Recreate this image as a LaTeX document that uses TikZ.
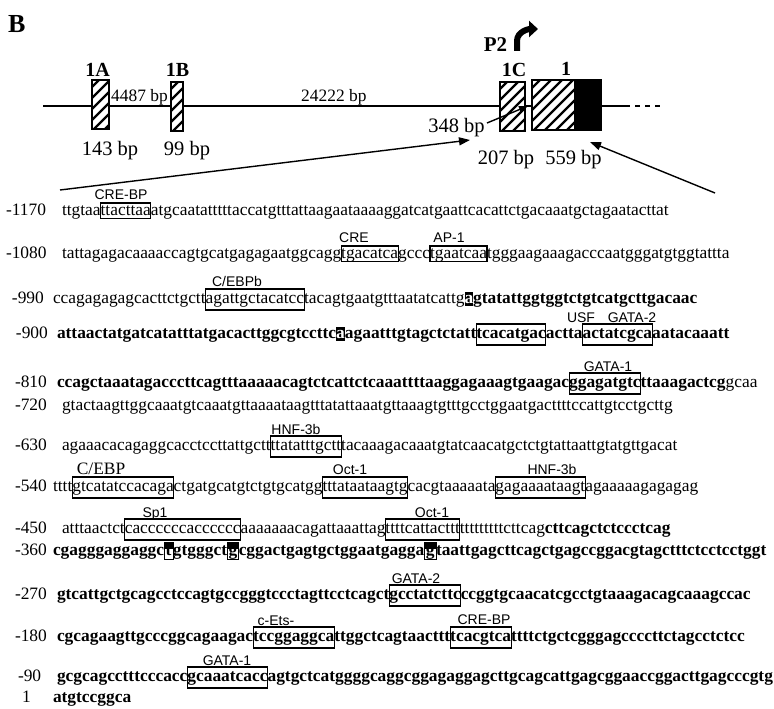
\documentclass[tikz,border=0pt]{standalone}
\usepackage{fontspec}
\setmainfont{Liberation Serif}
\newfontfamily\lsans{Liberation Sans}
\usetikzlibrary{arrows.meta}
\begin{document}
\begin{tikzpicture}[x=1pt,y=-1pt,
  seq/.style={inner sep=0pt, outer sep=0pt, anchor=base west, font=\fontsize{17.4}{20}\selectfont},
  seqb/.style={seq, font=\fontsize{17.4}{20}\selectfont\bfseries},
  rl/.style={seq},
  bx/.style={draw, line width=1.1pt, text height=14pt, text depth=7pt},
  bxs/.style={draw, line width=1.1pt, text height=12pt, text depth=3.5pt},
  hl/.style={fill=black, text=white, text height=11pt, text depth=3pt},
  mk/.style={draw, line width=0.6pt, inner xsep=1.5pt, text height=13pt, text depth=4pt,
    path picture={\fill[black] (path picture bounding box.north west) rectangle ([yshift=-7pt]path picture bounding box.north east);}},
  tf/.style={font=\lsans\fontsize{14}{16}\selectfont, anchor=base, inner sep=0pt},
  tfs/.style={font=\fontsize{17.4}{20}\selectfont, anchor=base, inner sep=0pt},
  num/.style={anchor=base west, inner sep=0pt, font=\fontsize{17.4}{20}\selectfont},
  big/.style={anchor=base, inner sep=0pt, font=\fontsize{20.5}{24}\selectfont},
  exl/.style={anchor=base, inner sep=0pt, font=\fontsize{20}{24}\selectfont\bfseries},
  hatch/.style={draw, line width=1.3pt, fill=white, inner sep=0pt, outer sep=0pt,
    path picture={\foreach \k in {-90,-79,...,70} \draw[line width=2.4pt] ([yshift=\k pt]path picture bounding box.south west) -- ++(100pt,100pt);}},
  hatchblack/.style={draw, line width=1.3pt, fill=white, inner sep=0pt, outer sep=0pt,
    path picture={\foreach \k in {-90,-79,...,70} \draw[line width=2.4pt] ([yshift=\k pt]path picture bounding box.south west) -- ++(100pt,100pt);
      \fill[black] ([xshift=42pt]path picture bounding box.south west) rectangle (path picture bounding box.north east);}},
  conn/.style={line width=1.4pt, -{Triangle[length=11pt,width=8pt]}}
]
\useasboundingbox (0,0) rectangle (774,709);

% ---------- gene map ----------
\node[anchor=base west, inner sep=0pt, font=\fontsize{26}{30}\selectfont\bfseries] (B) at (8,33) {B};

\coordinate (gL) at (43,106);
\coordinate (gS) at (625,106);
\coordinate (gE) at (663,106);
\draw[line width=1.4pt] (gL) -- (gS);
\draw[line width=1.4pt, dash pattern=on 5pt off 5pt] (gS) -- (gE);

\node[hatch, minimum width=17pt, minimum height=49pt] (e1A) at (100.5,104.5) {};
\node[hatch, minimum width=12pt, minimum height=49pt] (e1B) at (177,106.5) {};
\node[hatch, minimum width=25pt, minimum height=49pt] (e1C) at (512.5,106.5) {};
\node[hatchblack, minimum width=69pt, minimum height=50pt] (e1) at (566.5,105) {};

\node[exl] (n1A) at (97.5,77) {1A};
\node[exl] (n1B) at (177.5,77) {1B};
\node[exl] (n1C) at (514,77) {1C};
\node[exl] (n1) at (566,76) {1};
\node[exl, font=\fontsize{21}{24}\selectfont\bfseries] (nP2) at (495.5,52) {P2};

\node[num] (d1) at (111,102) {4487 bp};
\node[num] (d2) at (301,102) {24222 bp};
\node[big] (b143) at (110,155) {143 bp};
\node[big] (b99) at (187,155) {99 bp};
\node[big] (b348) at (456.5,132) {348 bp};
\node[big] (b207) at (506,164) {207 bp};
\node[big] (b559) at (573.5,164) {559 bp};

\coordinate (p2a) at (517,51);
\coordinate (p2b) at (538,29);
\draw[line width=6pt, -{Triangle[length=9pt,width=16pt]}] (p2a) -- (517,41) to[out=90,in=180] (p2b);

\coordinate (aL) at (60,190);
\coordinate (aLt) at (470,140);
\draw[conn] (aL) -- (aLt);
\coordinate (aR) at (715,193);
\coordinate (aRt) at (590,142);
\draw[conn] (aR) -- (aRt);
\coordinate (aS) at (487,123);
\coordinate (aSt) at (528,106);
\draw[line width=1.4pt, -{Triangle[length=9pt,width=7pt]}] (aS) -- (aSt);

% ---------- sequence ----------
% -1170
\node[rl] (l1) at (6,215) {-1170};
\node[seq] (s1a) at (62,215) {ttgtaa};
\node[seq,bxs] (s1b) at (s1a.base east) {ttacttaa};
\node[seq] (s1c) at (s1b.base east) {atgcaatatttttaccatgtttattaagaataaaaggatcatgaattcacattctgacaaatgctagaatacttat};
\node[tf] (t1) at (121,199) {CRE-BP};

% -1080
\node[rl] (l2) at (6,258) {-1080};
\node[seq] (s2a) at (62,258) {tattagagacaaaaccagtgcatgagagaatggcagg};
\node[seq,bxs] (s2b) at (s2a.base east) {tgacatca};
\node[seq] (s2c) at (s2b.base east) {gccc};
\node[seq,bxs] (s2d) at (s2c.base east) {tgaatcaa};
\node[seq] (s2e) at (s2d.base east) {tgggaagaaagacccaatgggatgtggtattta};
\node[tf] (t2a) at (354,242) {CRE};
\node[tf] (t2b) at (449,242) {AP-1};

% -990
\node[rl] (l3) at (12,303) {-990};
\node[seq] (s3a) at (53,303) {ccagagagagcacttctgctt};
\node[seq,bx] (s3b) at (s3a.base east) {agattgctacatcc};
\node[seq] (s3c) at (s3b.base east) {tacagtgaatgtttaatatcattg};
\node[seqb,hl] (s3d) at (s3c.base east) {a};
\node[seqb] (s3e) at (s3d.base east) {gtatattggtggtctgtcatgcttgacaac};
\node[tf] (t3) at (237,286) {C/EBPb};

% -900
\node[rl] (l4) at (16,338) {-900};
\node[seqb] (s4a) at (57,338) {attaactatgatcatatttatgacacttggcgtccttc};
\node[seqb,hl] (s4b) at (s4a.base east) {a};
\node[seqb] (s4c) at (s4b.base east) {agaatttgtagctctatt};
\node[seqb,bx] (s4d) at (s4c.base east) {tcacatgac};
\node[seqb] (s4e) at (s4d.base east) {actta};
\node[seqb,bx] (s4f) at (s4e.base east) {actatcgca};
\node[seqb] (s4g) at (s4f.base east) {aatacaaatt};
\node[tf] (t4a) at (581,322) {USF};
\node[tf] (t4b) at (632,322) {GATA-2};

% -810
\node[rl] (l5) at (15,387) {-810};
\node[seqb] (s5a) at (57,387) {ccagctaaatagacccttcagtttaaaaacagtctcattctcaaattttaaggagaaagtgaagac};
\node[seqb,bx] (s5b) at (s5a.base east) {ggagatgtc};
\node[seqb] (s5c) at (s5b.base east) {ttaaagactcg};
\node[seq] (s5d) at (s5c.base east) {gcaa};
\node[tf] (t5) at (608,371) {GATA-1};

% -720
\node[rl] (l6) at (15,410) {-720};
\node[seq] (s6a) at (62,410) {gtactaagttggcaaatgtcaaatgttaaaataagtttatattaaatgttaaagtgtttgcctggaatgacttttccattgtcctgcttg};

% -630
\node[rl] (l7) at (15,450) {-630};
\node[seq] (s7a) at (62,450) {agaaacacagaggcacctccttattgctt};
\node[seq,bx] (s7b) at (s7a.base east) {ttatatttgctt};
\node[seq] (s7c) at (s7b.base east) {tacaaagacaaatgtatcaacatgctctgtattaattgtatgttgacat};
\node[tf] (t7) at (296,434) {HNF-3b};

% -540
\node[rl] (l8) at (15,491) {-540};
\node[seq] (s8a) at (53,491) {tttt};
\node[seq,bx] (s8b) at (s8a.base east) {gtcatatccacaga};
\node[seq] (s8c) at (s8b.base east) {ctgatgcatgtctgtgcatgg};
\node[seq,bx] (s8d) at (s8c.base east) {tttataataagtg};
\node[seq] (s8e) at (s8d.base east) {cacgtaaaaata};
\node[seq,bx] (s8f) at (s8e.base east) {gagaaaataagt};
\node[seq] (s8g) at (s8f.base east) {agaaaaagagagag};
\node[tfs] (t8a) at (101,474) {C/EBP};
\node[tf] (t8b) at (350,474) {Oct-1};
\node[tf] (t8c) at (552,474) {HNF-3b};

% -450
\node[rl] (l9) at (15,533) {-450};
\node[seq] (s9a) at (62,533) {atttaactct};
\node[seq,bx] (s9b) at (s9a.base east) {caccccccacccccc};
\node[seq] (s9c) at (s9b.base east) {aaaaaaacagattaaattag};
\node[seq,bx] (s9d) at (s9c.base east) {ttttcattacttt};
\node[seq] (s9e) at (s9d.base east) {tttttttttcttcag};
\node[seqb] (s9f) at (s9e.base east) {cttcagctctccctcag};
\node[tf] (t9a) at (155,517) {Sp1};
\node[tf] (t9b) at (432,517) {Oct-1};

% -360
\node[rl] (l10) at (15,555) {-360};
\node[seqb] (s10a) at (53,555) {cgagggaggaggc};
\node[seqb,mk] (s10b) at (s10a.base east) {t};
\node[seqb] (s10c) at (s10b.base east) {gtgggct};
\node[seqb,mk] (s10d) at (s10c.base east) {g};
\node[seqb] (s10e) at (s10d.base east) {cggactgagtgctggaatgagga};
\node[seqb,mk] (s10f) at (s10e.base east) {g};
\node[seqb] (s10g) at (s10f.base east) {taattgagcttcagctgagccggacgtagctttctcctcctggt};

% -270
\node[rl] (l11) at (15,599) {-270};
\node[seqb] (s11a) at (57,599) {gtcattgctgcagcctccagtgccgggtccctagttcctcagct};
\node[seqb,bx] (s11b) at (s11a.base east) {gcctatcttc};
\node[seqb] (s11c) at (s11b.base east) {ccggtgcaacatcgcctgtaaagacagcaaagccac};
\node[tf] (t11) at (416,583) {GATA-2};

% -180
\node[rl] (l12) at (15,641) {-180};
\node[seqb] (s12a) at (57,641) {cgcagaagttgcccggcagaagac};
\node[seqb,bx] (s12b) at (s12a.base east) {tccggaggca};
\node[seqb] (s12c) at (s12b.base east) {ttggctcagtaacttt};
\node[seqb,bx] (s12d) at (s12c.base east) {tcacgtca};
\node[seqb] (s12e) at (s12d.base east) {ttttctgctcgggagccccttctagcctctcc};
\node[tf] (t12a) at (276,625) {c-Ets-};
\node[tf] (t12b) at (484,624) {CRE-BP};

% -90
\node[rl] (l13) at (18,681) {-90};
\node[seqb] (s13a) at (57,681) {gcgcagcctttcccacc};
\node[seqb,bx] (s13b) at (s13a.base east) {gcaaatcacc};
\node[seqb] (s13c) at (s13b.base east) {agtgctcatggggcaggcggagaggagcttgcagcattgagcggaaccggacttgagcccgtg};
\node[tf] (t13) at (227,665) {GATA-1};

% 1
\node[rl] (l14) at (22,702) {1};
\node[seqb] (s14a) at (53,702) {atgtccggca};
\end{tikzpicture}
\end{document}
